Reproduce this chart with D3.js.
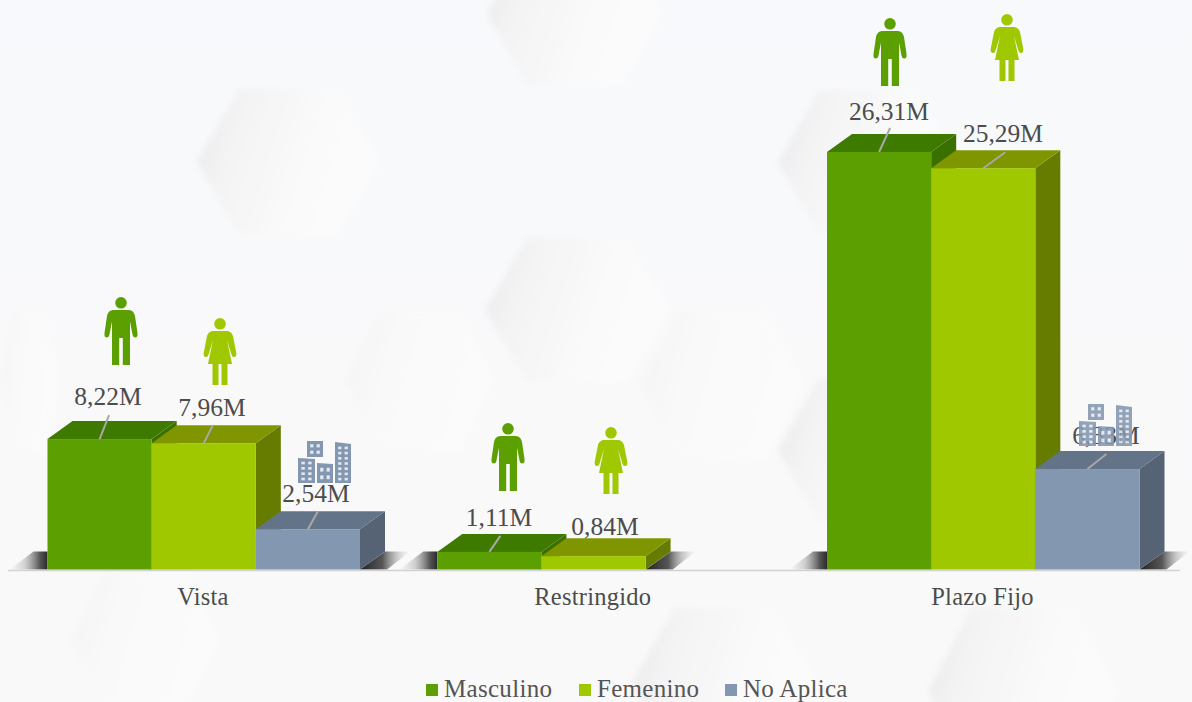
<!DOCTYPE html>
<html><head><meta charset="utf-8">
<script src="https://cdn.jsdelivr.net/npm/d3@7"></script>
<style>html,body{margin:0;padding:0;background:#f9f9fa}svg{display:block}</style>
</head><body><svg id="c" width="1192" height="702"></svg>
<script>
const categories = ["Vista","Restringido","Plazo Fijo"];
const seriesNames = ["Masculino","Femenino","No Aplica"];
const masculino = [8.22,1.11,26.31];
const femenino = [7.96,0.84,25.29];
const noAplica = [2.54,null,6.33];
const masculinoLabels = ["8,22M","1,11M","26,31M"];
const femeninoLabels = ["7,96M","0,84M","25,29M"];
const noAplicaLabels = ["2,54M",null,"6,33M"];
const frontColors = ["#5ba000","#a0c800","#8497b0"];
const topColors = ["#3f7a00","#7f9600","#647488"];
const sideColors = ["#3a7000","#667c00","#556374"];

const W=1192,H=702,baseY=569.5,dx=25,dy=-18,font='"Liberation Serif",serif',textCol='#4c4c4c';
const svg=d3.select('#c');
const defs=svg.append('defs');
defs.append('filter').attr('id','blur').attr('x','-30%').attr('y','-30%').attr('width','160%').attr('height','160%').append('feGaussianBlur').attr('stdDeviation',3);
const stops=(g,arr)=>arr.forEach(([o,c,a])=>g.append('stop').attr('offset',o).attr('stop-color',c).attr('stop-opacity',a==null?1:a));
stops(defs.append('linearGradient').attr('id','shadowL').attr('x1',0).attr('x2',1).attr('y1',0).attr('y2',0),[[0,'#999',0],[.4,'#888',.35],[.8,'#444',.9],[1,'#2a2a2a',1]]);
stops(defs.append('linearGradient').attr('id','shadowR').attr('x1',0).attr('x2',1).attr('y1',0).attr('y2',0),[[0,'#222',1],[.45,'#444',.9],[.75,'#888',.4],[1,'#aaa',0]]);
stops(defs.append('linearGradient').attr('id','hex').attr('x1',0).attr('x2',1).attr('y1',.3).attr('y2',.55),[[0,'#ebebed'],[.18,'#f3f3f4'],[.55,'#f9f9f9'],[1,'#fcfcfd']]);
stops(defs.append('linearGradient').attr('id','hexSoft').attr('x1',0).attr('x2',1).attr('y1',.3).attr('y2',.55),[[0,'#f5f5f6'],[.3,'#f9f9f9'],[1,'#fbfbfc']]);
stops(defs.append('linearGradient').attr('id','bg').attr('x1',0).attr('x2',0).attr('y1',0).attr('y2',1),[[0,'#f8f9fc'],[.45,'#f9f9fb'],[1,'#f9f9f9']]);

svg.append('rect').attr('width',W).attr('height',H).attr('fill','url(#bg)');
// decorative hexagons: left point x, centre y, half height, width, fill
const hexes=[[197,162,73,183,'hex'],[487,14,72,175,'hex'],[485,310,72,185,'hex'],[778,162,72,180,'hex'],[778,450,72,180,'hex'],
             [632,683,75,185,'hex'],[928,691,83,190,'hex'],[345,380,70,150,'hexSoft'],[640,385,75,165,'hexSoft'],[70,640,68,150,'hexSoft'],[0,380,70,60,'hexSoft']];
const hexG=svg.append('g').attr('filter','url(#blur)');
hexG.selectAll('path').data(hexes).join('path').attr('fill',d=>`url(#${d[4]})`).attr('d',d=>{
  const [l,cy,h,w]=d,s=w*.23;
  return d3.line()([[l,cy],[l+s,cy-h],[l+w-s,cy-h],[l+w,cy],[l+w-s,cy+h],[l+s,cy+h]])+'Z';});

const x0=d3.scaleBand().domain(categories).range([-3.75,1165.5]);
const x1=d3.scaleBand().domain(seriesNames).range([0,312.5]);
const groupStart=c=>x0(c)+51.25;
const y=d3.scaleLinear().domain([0,26.31]).range([baseY,152]);

// floor shadows
const g0=svg.append('g');
categories.forEach((c,i)=>{
  const l=groupStart(c); const n=i===1?208.5:312.5;
  g0.append('path').attr('fill','url(#shadowL)').attr('d',`M${l-38},${baseY}L${l-14},${baseY+dy}L${l},${baseY+dy}L${l},${baseY}Z`);
  g0.append('path').attr('fill','url(#shadowR)').attr('d',`M${l+n},${baseY}L${l+n+dx},${baseY+dy}L${l+n+dx+25},${baseY+dy}L${l+n+dx+2},${baseY}Z`);
});
svg.append('line').attr('x1',8).attr('x2',1180).attr('y1',baseY+1).attr('y2',baseY+1).attr('stroke','#d2d2d2').attr('stroke-width',1.5);

const rows=[masculino,femenino,noAplica];
const labels=[masculinoLabels,femeninoLabels,noAplicaLabels];
const leaders=[[[0,[9.5,-24]],[1,[9,-18]],[2,[10,-18]]],[[0,[11,-16]]],[[0,[11,-24]],[1,[22,-16]],[2,[19,-15]]]];

categories.forEach(c=>{
  const ci=categories.indexOf(c);
  [0,1,2].forEach(si=>{
    const v=rows[si][ci]; if(v==null) return;
    const l=groupStart(c)+x1(seriesNames[si]),w=x1.bandwidth(),t=y(v),r=l+w;
    const g=svg.append('g');
    g.append('path').attr('fill',sideColors[si]).attr('d',`M${r},${t}L${r+dx},${t+dy}L${r+dx},${baseY+dy}L${r},${baseY}Z`);
    g.append('path').attr('fill',topColors[si]).attr('d',`M${l},${t}L${l+dx},${t+dy}L${r+dx},${t+dy}L${r},${t}Z`);
    g.append('rect').attr('x',l).attr('y',t).attr('width',w).attr('height',baseY-t).attr('fill',frontColors[si]);
  });
});
// leaders
categories.forEach((c,ci)=>{
  leaders[ci].forEach(([si,[a,b]])=>{
    const l=groupStart(c)+x1(seriesNames[si])+x1.bandwidth()/2,t=y(rows[si][ci]);
    svg.append('line').attr('x1',l).attr('y1',t).attr('x2',l+a).attr('y2',t+b).attr('stroke','#a8a8a8').attr('stroke-width',2);
  });
});

const man="M0,0a5.8,5.8 0 1 1 0,11.6a5.8,5.8 0 1 1 0,-11.6ZM-7,13H7C11,13 13,15 14,19L16.5,36Q17,40.5 14.2,40.5Q12.2,40.5 11.6,38L9,24.5V68H1.8V41H-1.8V68H-9V24.5L-11.6,38Q-12.2,40.5 -14.2,40.5Q-17,40.5 -16.5,36L-14,19C-13,15 -11,13 -7,13Z";
const woman="M0,0a5.8,5.8 0 1 1 0,11.6a5.8,5.8 0 1 1 0,-11.6ZM-6,13H6C10,13 12,15 13,18L16.3,35Q16.8,39 14,39Q12,39 11.4,36.5L7,22L12,46H7.5V67H1.5V46H-1.5V67H-7.5V46H-12L-7,22L-11.4,36.5Q-12,39 -14,39Q-16.8,39 -16.3,35L-13,18C-12,15 -10,13 -6,13Z";

function building(g,xx,yy,w,h,cols,rws,slant){
  g.append('path').attr('fill',frontColors[2]).attr('d',`M${xx},${yy}L${xx+w},${yy+slant}L${xx+w},${yy+h}L${xx},${yy+h}Z`);
  const cw=w/(cols*2+1),rh=(h-slant)/(rws*2+1);
  for(let a=0;a<cols;a++)for(let b=0;b<rws;b++)
    g.append('rect').attr('x',xx+cw*(a*2+1)).attr('y',yy+slant+rh*(b*2+1)).attr('width',cw).attr('height',rh).attr('fill','#e4e9f0');
}
function city(px,py,op){
  const g=svg.append('g').attr('transform',`translate(${px},${py})`).attr('opacity',op);
  building(g,9,0,16,16,2,2,0);
  building(g,0,17,17,25,2,4,1);
  building(g,19,22,16,20,2,2,1);
  building(g,37,1,16,41,2,7,2);
}
const iconMan=[[121,297],[508,423],[890,18]];
const iconWoman=[[220,318],[611,427],[1007,14]];
iconMan.forEach(p=>svg.append('path').attr('d',man).attr('fill',frontColors[0]).attr('transform',`translate(${p[0]},${p[1]})`));
iconWoman.forEach(p=>svg.append('path').attr('d',woman).attr('fill',frontColors[1]).attr('transform',`translate(${p[0]},${p[1]})`));

// value labels
const labelPos=[[108,405],[212,416],[316,502],[499,526],[605,535],[889,120],[1003,142],[1106,444]];
let k=0;
categories.forEach((c,ci)=>{labels.forEach(s=>{ if(s[ci]==null) return;
  const p=labelPos[k++];
  svg.append('text').attr('x',p[0]).attr('y',p[1]).attr('text-anchor','middle').attr('font-family',font).attr('font-size',25.5).attr('fill',textCol).text(s[ci]);
});});
city(298,441,1);
city(1079,404,.88);

// axis labels
const axis=d3.axisBottom(d3.scaleOrdinal().domain(categories).range(categories.map(c=>groupStart(c)+155))).tickSize(0).tickPadding(0);
const ag=svg.append('g').attr('transform',`translate(0,605)`).call(axis);
ag.select('.domain').remove();
ag.selectAll('text').attr('y',0).attr('dy',0).attr('font-family',font).attr('font-size',24.5).attr('letter-spacing',.25).attr('fill',textCol);

// legend
const legX=[426,579,725];
seriesNames.forEach((n,i)=>{
  svg.append('rect').attr('x',legX[i]).attr('y',684).attr('width',12).attr('height',12).attr('fill',frontColors[i]);
  svg.append('text').attr('x',legX[i]+18).attr('y',697).attr('font-family',font).attr('font-size',25).attr('letter-spacing',.3).attr('fill','#555').text(n);
});
</script></body></html>
